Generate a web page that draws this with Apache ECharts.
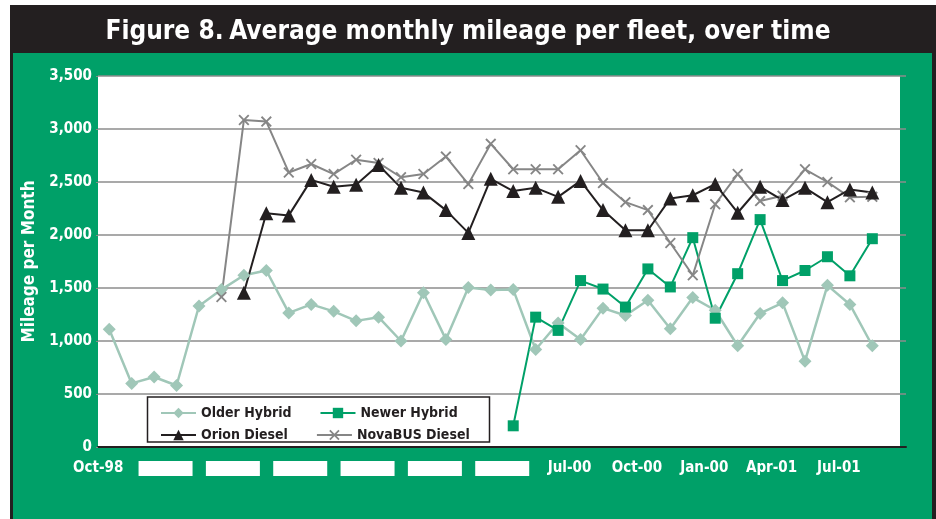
<!DOCTYPE html>
<html>
<head>
<meta charset="utf-8">
<script src="https://cdn.jsdelivr.net/npm/echarts@6/dist/echarts.min.js"></script>
<style>
  html, body { margin: 0; padding: 0; background: #fff; }
  #chart { width: 936px; height: 519px; }
</style>
</head>
<body>
<div id="chart"></div>
<script>
// months on the x axis (one category per month, last one empty)
const months = [
  'Oct-98', 'Nov-98', 'Dec-98', 'Jan-99', 'Feb-99', 'Mar-99', 'Apr-99', 'May-99', 'Jun-99',
  'Jul-99', 'Aug-99', 'Sep-99', 'Oct-99', 'Nov-99', 'Dec-99', 'Jan-00', 'Feb-00', 'Mar-00',
  'Apr-00', 'May-00', 'Jun-00', 'Jul-00', 'Aug-00', 'Sep-00', 'Oct-00', 'Nov-00', 'Dec-00',
  'Jan-01', 'Feb-01', 'Mar-01', 'Apr-01', 'May-01', 'Jun-01', 'Jul-01', 'Aug-01', 'Sep-01'
];

// quarterly tick labels as printed (hidden ones are blanked out in the figure)
const tickLabels = ['Oct-98', 'Jan-99', 'Apr-99', 'Jul-99', 'Oct-99', 'Jan-00', 'Apr-00',
  'Jul-00', 'Oct-00', 'Jan-00', 'Apr-01', 'Jul-01'];
const hiddenTicks = [false, true, true, true, true, true, true, false, false, false, false, false];

const olderHybrid = [1110, 600, 660, 580, 1330, 1485, 1620, 1665, 1265, 1345, 1280, 1190,
  1225, 1000, 1455, 1015, 1505, 1480, 1485, 920, 1170, 1015, 1310, 1240, 1385, 1115,
  1410, 1290, 955, 1260, 1360, 810, 1525, 1345, 955, null];
const newerHybrid = [null, null, null, null, null, null, null, null, null, null, null, null,
  null, null, null, null, null, null, 200, 1225, 1100, 1570, 1490, 1320, 1680, 1510,
  1975, 1215, 1635, 2145, 1570, 1665, 1795, 1615, 1965, null];
const orionDiesel = [null, null, null, null, null, null, 1455, 2205, 2185, 2520, 2455, 2475,
  2660, 2445, 2400, 2235, 2020, 2530, 2415, 2445, 2360, 2510, 2235, 2045, 2045, 2345,
  2375, 2480, 2210, 2455, 2330, 2445, 2310, 2430, 2400, null];
const novaBusDiesel = [null, null, null, null, null, 1415, 3085, 3070, 2590, 2670, 2575, 2710,
  2680, 2545, 2575, 2740, 2480, 2860, 2620, 2620, 2620, 2800, 2490, 2310, 2235, 1925,
  1620, 2290, 2575, 2320, 2370, 2620, 2500, 2355, 2360, null];

const GREEN = '#00a068';
const DARK = '#231f20';
const FONT = '"DejaVu Sans Condensed", sans-serif';
const crossPath = 'path://M0,1.2 L1.2,0 L5,3.8 L8.8,0 L10,1.2 L6.2,5 L10,8.8 L8.8,10 L5,6.2 L1.2,10 L0,8.8 L3.8,5 Z';

const chart = echarts.init(document.getElementById('chart'));

chart.setOption({
  animation: false,
  textStyle: { fontFamily: FONT },
  title: {
    text: '{a|Figure 8.} {b|Average monthly mileage per fleet, over time}',
    left: 'center',
    top: 14,
    textStyle: {
      rich: {
        a: { color: '#fff', fontSize: 26, fontWeight: 'bold', fontFamily: FONT },
        b: { color: '#fff', fontSize: 26, fontWeight: 'bold', fontFamily: FONT }
      }
    }
  },
  graphic: [
    { type: 'rect', z: -20, shape: { x: 10, y: 5, width: 926, height: 520 }, style: { fill: DARK } },
    { type: 'rect', z: -19, shape: { x: 13, y: 53, width: 919, height: 470 }, style: { fill: GREEN } },
    { type: 'rect', z: -18, shape: { x: 98, y: 76, width: 802, height: 371 }, style: { fill: '#fff' } },
    {
      type: 'rect', z: 3,
      shape: { x: 147.5, y: 397, width: 342, height: 45 },
      style: { fill: '#fff', stroke: DARK, lineWidth: 1.5 }
    }
  ],
  legend: [
    {
      data: ['Older Hybrid', 'Newer Hybrid'],
      left: 155, top: 401,
      itemWidth: 35, itemHeight: 13, itemGap: 28,
      textStyle: { color: DARK, fontSize: 14, fontWeight: 'bold', width: 125, fontFamily: FONT }
    },
    {
      data: ['Orion Diesel', 'NovaBUS Diesel'],
      left: 155, top: 423,
      itemWidth: 35, itemHeight: 13, itemGap: 28,
      textStyle: { color: DARK, fontSize: 14, fontWeight: 'bold', width: 125, fontFamily: FONT }
    }
  ],
  grid: { left: 98, top: 76, width: 808, height: 371 },
  xAxis: {
    type: 'category',
    data: months,
    boundaryGap: true,
    axisLine: { lineStyle: { color: DARK, width: 2 } },
    axisTick: { interval: 2, length: 6, lineStyle: { color: DARK, width: 2 } },
    axisLabel: {
      interval: 2,
      margin: 14,
      padding: [0, 22, 0, 0],
      color: '#fff',
      fontSize: 15,
      fontWeight: 'bold',
      formatter: (v, i) => {
        const k = Math.round(i / 3);
        return hiddenTicks[k] ? '{r|' + tickLabels[k] + '}' : tickLabels[k];
      },
      rich: {
        r: { color: '#fff', backgroundColor: '#fff', width: 54, height: 15, align: 'center', fontSize: 12 }
      }
    }
  },
  yAxis: {
    type: 'value',
    min: 0, max: 3500, interval: 500,
    name: 'Mileage per Month',
    nameLocation: 'middle',
    nameGap: 56,
    nameTextStyle: { color: '#fff', fontSize: 17, fontWeight: 'bold', fontFamily: FONT },
    axisLine: { show: false },
    axisTick: { show: true, length: 2, lineStyle: { color: '#888' } },
    axisLabel: {
      color: '#fff', fontSize: 15, fontWeight: 'bold', margin: 6,
      formatter: v => v.toLocaleString('en-US')
    },
    splitLine: { lineStyle: { color: '#8c8c8c', width: 1.5 } }
  },
  series: [
    {
      name: 'Older Hybrid', type: 'line', data: olderHybrid,
      symbol: 'diamond', symbolSize: 13, color: '#a0c7b8',
      lineStyle: { width: 2.5 }
    },
    {
      name: 'Newer Hybrid', type: 'line', data: newerHybrid,
      symbol: 'rect', symbolSize: 11, color: GREEN,
      lineStyle: { width: 2 }
    },
    {
      name: 'NovaBUS Diesel', type: 'line', data: novaBusDiesel,
      symbol: crossPath, symbolSize: 11, color: '#868686',
      lineStyle: { width: 2 }
    },
    {
      name: 'Orion Diesel', type: 'line', data: orionDiesel,
      symbol: 'triangle', symbolSize: 14, color: DARK,
      lineStyle: { width: 2 }
    }
  ]
});
</script>
</body>
</html>
